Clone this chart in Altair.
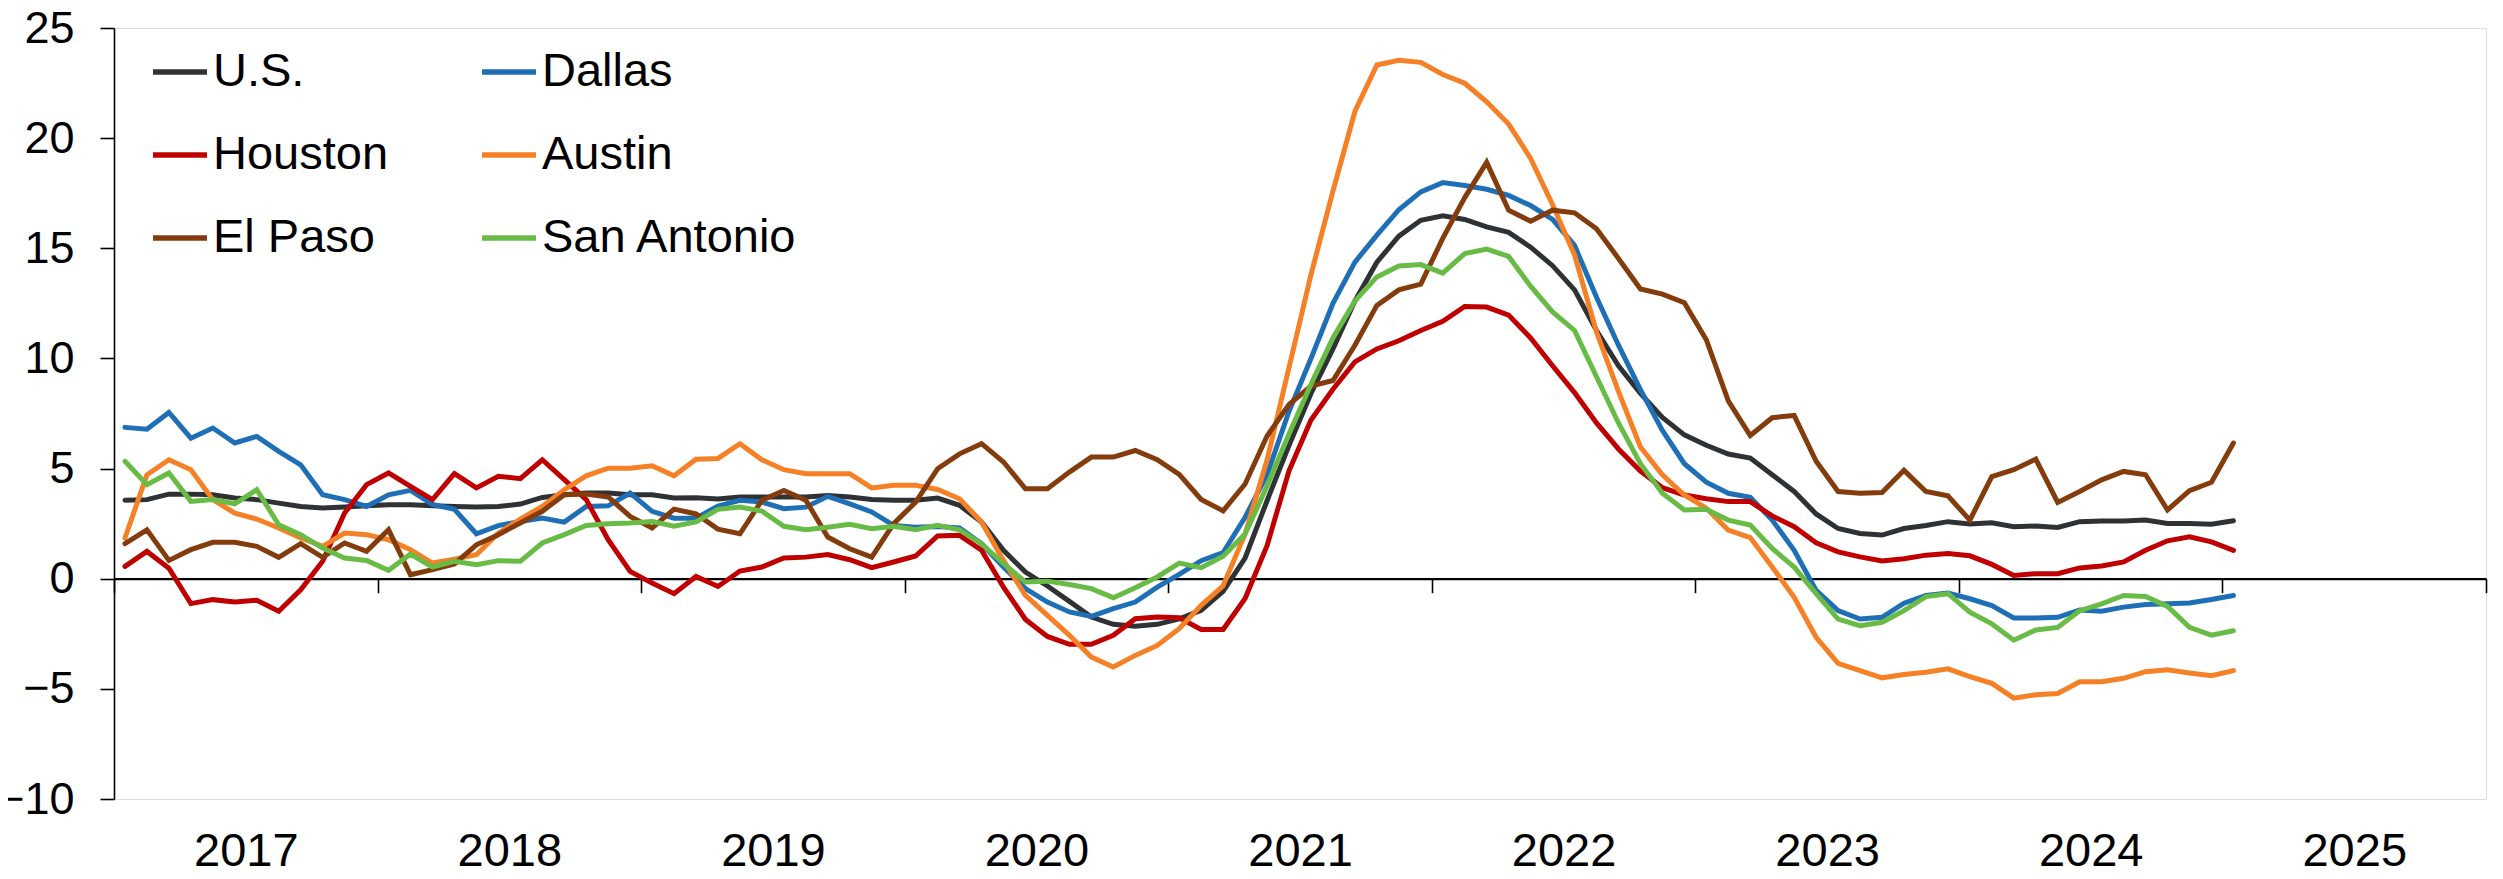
import altair as alt
import pandas as pd

# Monthly observations, Jan 2017 - Jan 2025
months = [f"{y}-{m:02d}" for y in range(2017, 2026) for m in range(1, 13)][:97]

us = [3.56, 3.59, 3.84, 3.84, 3.81, 3.66, 3.59, 3.43, 3.28, 3.21, 3.25, 3.31, 3.36, 3.36, 3.31, 3.28,
      3.25, 3.28, 3.39, 3.69, 3.81, 3.89, 3.89, 3.81, 3.81, 3.66, 3.68, 3.62,
      3.71, 3.71, 3.71, 3.71, 3.78, 3.71, 3.6, 3.56, 3.56, 3.66, 3.33, 2.57, 1.29, 0.3, -0.33, -1.03,
      -1.74, -2.07, -2.16, -2.07, -1.82, -1.44,
      -0.57, 0.94, 3.54, 6.06, 8.41, 10.43, 12.61, 14.37, 15.55, 16.27, 16.47, 16.31, 15.97, 15.72,
      15.05, 14.21, 13.11, 11.27, 9.67, 8.41, 7.32, 6.53,
      6.06, 5.66, 5.48, 4.72, 3.96, 2.94, 2.28, 2.05, 1.98, 2.28, 2.42, 2.59, 2.48, 2.54, 2.36, 2.39,
      2.33, 2.59, 2.62, 2.62, 2.66, 2.51, 2.51, 2.47, 2.63]

dallas = [6.87, 6.79, 7.55, 6.38, 6.84, 6.16, 6.46, 5.78, 5.17, 3.81, 3.59, 3.28, 3.81, 4.01, 3.37,
          3.15, 2.04, 2.41, 2.6, 2.75, 2.57, 3.28, 3.31, 3.89, 3.06, 2.75, 2.75, 3.3,
          3.56, 3.48, 3.18, 3.25, 3.74, 3.4, 3.03, 2.42, 2.34, 2.37, 2.31, 1.59, 0.53, -0.45, -1.06,
          -1.51, -1.71, -1.36, -1.06, -0.38, 0.2, 0.82,
          1.19, 2.79, 4.72, 7.6, 10.0, 12.5, 14.37, 15.6, 16.75, 17.56, 17.98, 17.85, 17.68, 17.4,
          16.94, 16.31, 15.13, 12.78, 10.6, 8.58, 6.73, 5.22, 4.38,
          3.88, 3.7, 2.66, 1.29, -0.53, -1.45, -1.83, -1.75, -1.11, -0.76, -0.65, -0.91, -1.22, -1.78,
          -1.78, -1.75, -1.42, -1.48, -1.29, -1.17, -1.14, -1.1, -0.94, -0.76]

houston = [0.56, 1.24, 0.48, -1.13, -0.95, -1.06, -0.98, -1.48, -0.5, 0.79, 2.98, 4.27, 4.8, 4.19,
           3.59, 4.77, 4.12, 4.65, 4.54, 5.4, 4.5, 3.59, 1.77, 0.33, -0.2, -0.68,
           0.1, -0.35, 0.35, 0.53, 0.94, 0.98, 1.1, 0.86, 0.5, 0.76, 1.03, 1.94, 1.97, 1.29, -0.38,
           -1.85, -2.62, -2.98, -2.98, -2.57, -1.82, -1.74, -1.77, -2.3,
           -2.3, -0.9, 1.5, 4.9, 7.2, 8.6, 9.84, 10.43, 10.8, 11.27, 11.69, 12.36, 12.33, 11.97, 10.93,
           9.67, 8.45, 7.07, 5.89, 4.89, 4.13, 3.8, 3.63,
           3.5, 3.5, 2.85, 2.36, 1.63, 1.22, 0.99, 0.81, 0.91, 1.07, 1.14, 1.04, 0.65, 0.15, 0.23,
           0.23, 0.49, 0.58, 0.76, 1.29, 1.72, 1.9, 1.67, 1.29]

austin = [1.85, 4.72, 5.4, 4.95, 3.59, 2.98, 2.71, 2.3, 1.85, 1.47, 2.07, 2.0, 1.77, 1.32, 0.71, 0.89,
          1.09, 2.07, 2.71, 3.28, 4.04, 4.67, 5.02, 5.02, 5.13, 4.67,
          5.42, 5.46, 6.13, 5.4, 4.95, 4.77, 4.77, 4.77, 4.12, 4.24, 4.24, 4.05, 3.63, 2.57, 0.83,
          -0.76, -1.66, -2.57, -3.56, -4.01, -3.48, -3.03, -2.27, -1.21,
          -0.32, 2.03, 5.39, 9.59, 13.8, 17.6, 21.21, 23.32, 23.53, 23.44, 22.89, 22.49, 21.65, 20.64,
          19.08, 16.98, 14.7, 11.2, 8.5, 5.98, 4.72, 3.8, 3.2,
          2.21, 1.87, 0.53, -0.84, -2.66, -3.84, -4.17, -4.5, -4.35, -4.25, -4.09, -4.44, -4.75,
          -5.42, -5.27, -5.21, -4.68, -4.68, -4.52, -4.22, -4.13, -4.28, -4.4, -4.17]

el_paso = [1.59, 2.22, 0.83, 1.32, 1.65, 1.65, 1.47, 0.97, 1.59, 0.97, 1.62, 1.24, 2.22, 0.18, 0.41,
           0.67, 1.54, 2.0, 2.53, 3.06, 3.81, 3.84, 3.71, 2.83, 2.3, 3.16,
           2.94, 2.25, 2.04, 3.56, 4.01, 3.56, 1.89, 1.36, 0.98, 2.5, 3.48, 4.99, 5.67, 6.13, 5.3,
           4.08, 4.08, 4.84, 5.52, 5.52, 5.82, 5.4, 4.74, 3.6,
           3.08, 4.3, 6.48, 7.91, 8.75, 9.0, 10.6, 12.41, 13.11, 13.37, 15.45, 17.3, 18.9, 16.73,
           16.23, 16.73, 16.61, 15.89, 14.54, 13.15, 12.92, 12.53, 10.85,
           8.07, 6.5, 7.31, 7.41, 5.33, 3.96, 3.88, 3.91, 4.92, 3.96, 3.76, 2.66, 4.64, 4.95, 5.43,
           3.46, 3.96, 4.49, 4.87, 4.72, 3.12, 4.0, 4.38, 6.16]

san_antonio = [5.33, 4.27, 4.8, 3.51, 3.59, 3.4, 4.04, 2.45, 2.0, 1.39, 0.94, 0.83, 0.38, 1.12, 0.53,
               0.79, 0.64, 0.82, 0.79, 1.62, 2.0, 2.42, 2.5, 2.53, 2.6, 2.38,
               2.58, 3.15, 3.25, 3.07, 2.38, 2.22, 2.34, 2.47, 2.27, 2.38, 2.22, 2.42, 2.22, 1.59,
               0.68, -0.15, -0.11, -0.26, -0.45, -0.86, -0.41, 0.08, 0.71, 0.5,
               1.02, 2.03, 4.21, 6.57, 8.83, 10.93, 12.61, 13.7, 14.2, 14.26, 13.87, 14.76, 14.96,
               14.63, 13.28, 12.11, 11.27, 9.17, 7.07, 5.22, 3.88, 3.12, 3.15,
               2.66, 2.44, 1.37, 0.53, -0.68, -1.83, -2.13, -1.98, -1.45, -0.81, -0.68, -1.52, -2.05,
               -2.79, -2.33, -2.21, -1.45, -1.14, -0.76, -0.81, -1.26, -2.21, -2.56, -2.36]

series_names = ["U.S.", "Dallas", "Houston", "Austin", "El Paso", "San Antonio"]
series_values = [us, dallas, houston, austin, el_paso, san_antonio]
series_colors = ["#2F3235", "#1F6FB6", "#C00000", "#F58025", "#843C0C", "#68BC46"]
# legend is filled column by column: first column U.S./Houston/El Paso
legend_order = ["U.S.", "Houston", "El Paso", "Dallas", "Austin", "San Antonio"]
legend_colors = [series_colors[series_names.index(n)] for n in legend_order]
year_ticks = list(range(2017, 2027))
y_ticks = [-10, -5, 0, 5, 10, 15, 20, 25]

rows = []
for name, vals in zip(series_names, series_values):
    for m, v in zip(months, vals):
        t = int(m[:4]) + (int(m[5:7]) - 0.5) / 12
        rows.append({"month": m, "t": t, "series": name, "value": v})
df = pd.DataFrame(rows)

FONT = "Liberation Sans"
FS = 47
W, H = 2372, 771
zero_from_bottom = H * 10 / 35

chart = alt.Chart(df).mark_line(strokeWidth=5, strokeJoin="miter", strokeCap="round").encode(
    x=alt.X("t:Q",
            scale=alt.Scale(domain=[2017, 2026], nice=False, zero=False),
            axis=alt.Axis(values=year_ticks, format="d", title=None, grid=False,
                          offset=-zero_from_bottom, domainColor="black", domainWidth=2.2,
                          tickColor="black", tickWidth=1.6, tickSize=14,
                          labelFontSize=FS, labelFont=FONT, labelColor="black",
                          labelBaseline="middle", labelPadding=259, labelOffset=131.8,
                          labelFlush=False, labelOverlap=False,
                          labelExpr="datum.value >= 2026 ? '' : datum.label")),
    y=alt.Y("value:Q",
            scale=alt.Scale(domain=[-10, 25], nice=False, zero=False),
            axis=alt.Axis(values=y_ticks, title=None, grid=False,
                          domainColor="black", domainWidth=1.6,
                          tickColor="black", tickWidth=1.6, tickSize=14,
                          labelFontSize=45, labelFont=FONT, labelColor="black",
                          labelPadding=26)),
    color=alt.Color("series:N",
                    scale=alt.Scale(domain=legend_order, range=legend_colors),
                    legend=alt.Legend(orient="none", legendX=36, legendY=14, columns=2,
                                      title=None, symbolType="stroke", symbolSize=2916,
                                      symbolStrokeWidth=5.5, labelFontSize=FS, labelFont=FONT,
                                      labelColor="black", labelOffset=3, rowPadding=30,
                                      columnPadding=82, padding=0, labelLimit=500)),
    detail="series:N",
).properties(
    width=W, height=H,
    autosize=alt.AutoSizeParams(type="none"),
    padding={"left": 106, "top": 20, "right": 8, "bottom": 78},
).configure_view(stroke=None).configure(background="white")

chart.save("out.html", embed_options={"renderer": "svg", "actions": False})
